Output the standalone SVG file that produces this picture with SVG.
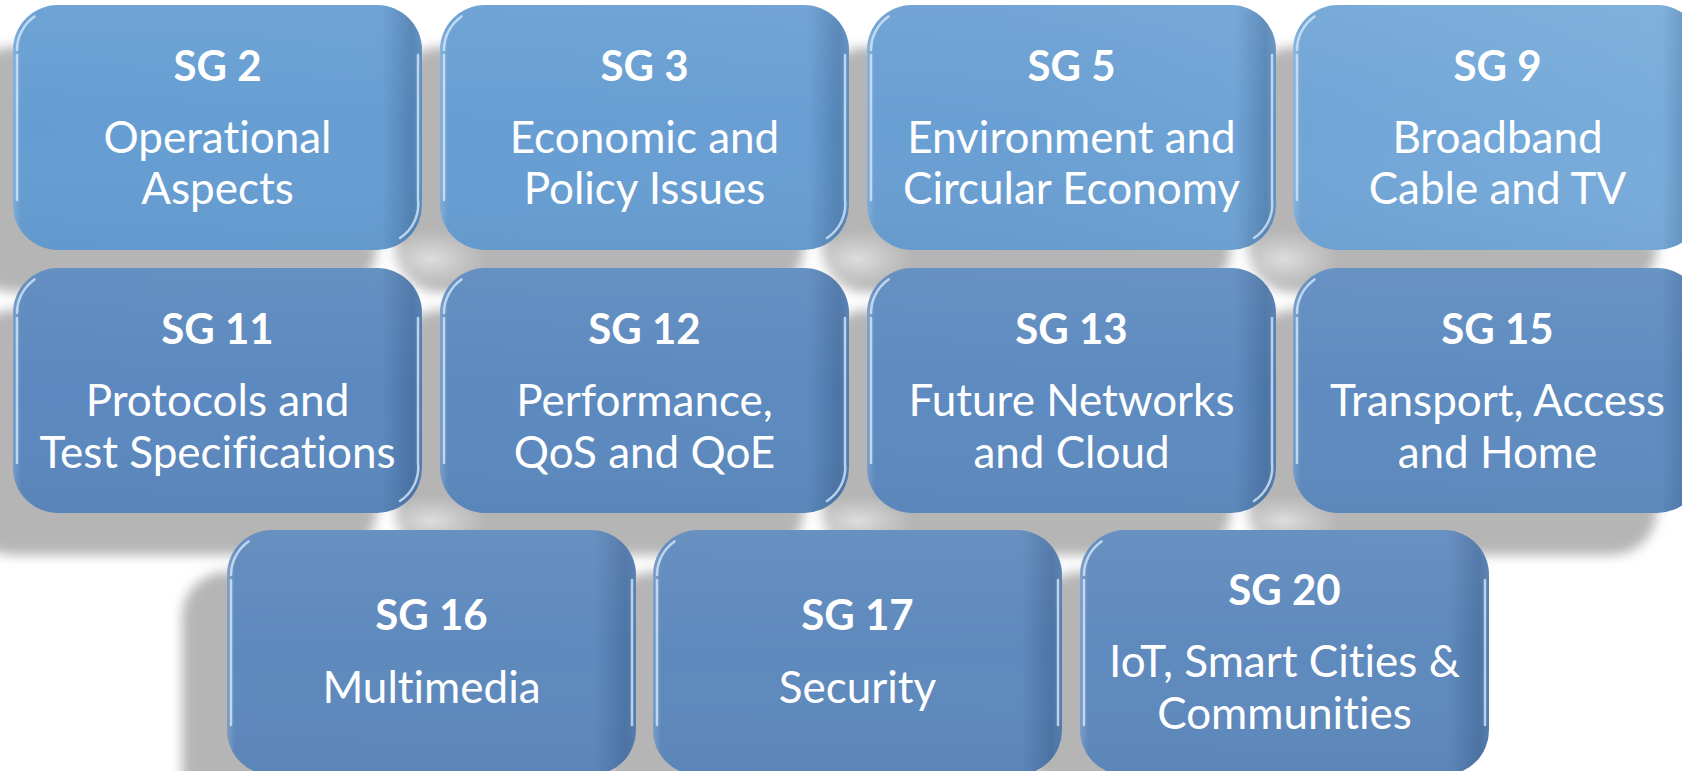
<svg xmlns="http://www.w3.org/2000/svg" width="1682" height="771" viewBox="0 0 1682 771">
  <defs>
    <style>
      .title { font-family: Lato, "Open Sans", "Liberation Sans", sans-serif; font-weight: bold; font-size: 42px; fill: #ffffff; text-anchor: middle; font-variant-ligatures: none; }
      .body { font-family: Lato, "Open Sans", "Liberation Sans", sans-serif; font-size: 44px; fill: #ffffff; text-anchor: middle; font-variant-ligatures: none; font-feature-settings: "liga" 0, "dlig" 0; }
      .shadow { fill: #b5b5b5; filter: url(#soft); }
      .r1 { fill: url(#fillRow1); }
      .r2 { fill: url(#fillRow2); }
      .r3 { fill: url(#fillRow3); }
      .shade { fill: url(#edgeShade); }
      .gloss { fill: url(#topGloss); }
      .hl { fill: none; stroke: #d4e7f8; stroke-width: 2.5; stroke-linecap: round; opacity: 0.8; }
    </style>
    <filter id="soft" x="-10%" y="-10%" width="120%" height="120%">
      <feGaussianBlur stdDeviation="6"/>
    </filter>
    <linearGradient id="fillRow1" gradientUnits="userSpaceOnUse" x1="0" y1="0" x2="1682" y2="250">
      <stop offset="0" stop-color="#659dd2"/>
      <stop offset="0.6" stop-color="#6a9fd3"/>
      <stop offset="1" stop-color="#79addb"/>
    </linearGradient>
    <linearGradient id="fillRow2" gradientUnits="userSpaceOnUse" x1="0" y1="268" x2="1682" y2="513">
      <stop offset="0" stop-color="#5b88be"/>
      <stop offset="1" stop-color="#5f8cc0"/>
    </linearGradient>
    <linearGradient id="fillRow3" gradientUnits="userSpaceOnUse" x1="0" y1="530" x2="1682" y2="771">
      <stop offset="0" stop-color="#5e89bd"/>
      <stop offset="1" stop-color="#5f8abd"/>
    </linearGradient>
    <!-- darker band along the right edge of each tile -->
    <linearGradient id="edgeShade" x1="0" y1="0" x2="1" y2="0">
      <stop offset="0" stop-color="#ffffff" stop-opacity="0.18"/>
      <stop offset="0.02" stop-color="#ffffff" stop-opacity="0"/>
      <stop offset="0.9" stop-color="#1c3c66" stop-opacity="0"/>
      <stop offset="0.975" stop-color="#1c3c66" stop-opacity="0.28"/>
      <stop offset="1" stop-color="#1c3c66" stop-opacity="0.15"/>
    </linearGradient>
    <linearGradient id="topGloss" x1="0" y1="0" x2="0" y2="1">
      <stop offset="0" stop-color="#ffffff" stop-opacity="0.06"/>
      <stop offset="0.5" stop-color="#ffffff" stop-opacity="0"/>
      <stop offset="1" stop-color="#000000" stop-opacity="0.03"/>
    </linearGradient>
    <radialGradient id="spot">
      <stop offset="0" stop-color="#ffffff" stop-opacity="0.55"/>
      <stop offset="0.5" stop-color="#ffffff" stop-opacity="0.25"/>
      <stop offset="1" stop-color="#ffffff" stop-opacity="0"/>
    </radialGradient>
  </defs>

  <rect width="1682" height="771" fill="#ffffff"/>

  <!-- cast shadows, shifted down and to the left -->
  <g id="shadows">
    <rect class="shadow" x="-32" y="47" width="409" height="245" rx="45"/>
    <rect class="shadow" x="395" y="47" width="409" height="245" rx="45"/>
    <rect class="shadow" x="822" y="47" width="409" height="245" rx="45"/>
    <rect class="shadow" x="1248" y="47" width="409" height="245" rx="45"/>
    <rect class="shadow" x="-32" y="310" width="409" height="245" rx="45"/>
    <rect class="shadow" x="395" y="310" width="409" height="245" rx="45"/>
    <rect class="shadow" x="822" y="310" width="409" height="245" rx="45"/>
    <rect class="shadow" x="1248" y="310" width="409" height="245" rx="45"/>
    <rect class="shadow" x="182" y="572" width="409" height="245" rx="45"/>
    <rect class="shadow" x="608" y="572" width="409" height="245" rx="45"/>
    <rect class="shadow" x="1035" y="572" width="409" height="245" rx="45"/>
  </g>

  <!-- lighter pools where the gaps cross -->
  <g id="gap-light">
    <ellipse cx="431" cy="259" rx="55" ry="30" fill="url(#spot)"/>
    <ellipse cx="858" cy="259" rx="55" ry="30" fill="url(#spot)"/>
    <ellipse cx="1284" cy="259" rx="55" ry="30" fill="url(#spot)"/>
    <ellipse cx="431" cy="521" rx="55" ry="26" fill="url(#spot)"/>
    <ellipse cx="858" cy="521" rx="55" ry="26" fill="url(#spot)"/>
    <ellipse cx="1284" cy="521" rx="55" ry="26" fill="url(#spot)"/>
  </g>

  <!-- Row 1 -->
  <g id="sg2">
    <rect class="r1" x="13" y="5" width="409" height="245" rx="45"/>
    <rect class="shade" x="13" y="5" width="409" height="245" rx="45"/>
    <rect class="gloss" x="13" y="5" width="409" height="245" rx="45"/>
    <path class="hl" d="M17 55 V200 M17 50 A41 41 0 0 1 34.5 16.4 M418 55 V200 M418 200 A40 40 0 0 1 400 238"/>
    <text class="title" x="217.5" y="81">SG 2</text>
    <text class="body" x="217.5" y="153">Operational</text>
    <text class="body" x="217.5" y="204">Aspects</text>
  </g>
  <g id="sg3">
    <rect class="r1" x="440" y="5" width="409" height="245" rx="45"/>
    <rect class="shade" x="440" y="5" width="409" height="245" rx="45"/>
    <rect class="gloss" x="440" y="5" width="409" height="245" rx="45"/>
    <path class="hl" d="M444 55 V200 M444 50 A41 41 0 0 1 461.5 16.4 M845 55 V200 M845 200 A40 40 0 0 1 827 238"/>
    <text class="title" x="644.5" y="81">SG 3</text>
    <text class="body" x="644.5" y="153">Economic and</text>
    <text class="body" x="644.5" y="204">Policy Issues</text>
  </g>
  <g id="sg5">
    <rect class="r1" x="867" y="5" width="409" height="245" rx="45"/>
    <rect class="shade" x="867" y="5" width="409" height="245" rx="45"/>
    <rect class="gloss" x="867" y="5" width="409" height="245" rx="45"/>
    <path class="hl" d="M871 55 V200 M871 50 A41 41 0 0 1 888.5 16.4 M1272 55 V200 M1272 200 A40 40 0 0 1 1254 238"/>
    <text class="title" x="1071.5" y="81">SG 5</text>
    <text class="body" x="1071.5" y="153">Environment and</text>
    <text class="body" x="1071.5" y="204">Circular Economy</text>
  </g>
  <g id="sg9">
    <rect class="r1" x="1293" y="5" width="409" height="245" rx="45"/>
    <rect class="shade" x="1293" y="5" width="409" height="245" rx="45"/>
    <rect class="gloss" x="1293" y="5" width="409" height="245" rx="45"/>
    <path class="hl" d="M1297 55 V200 M1297 50 A41 41 0 0 1 1314.5 16.4"/>
    <text class="title" x="1497.5" y="81">SG 9</text>
    <text class="body" x="1497.5" y="153">Broadband</text>
    <text class="body" x="1497.5" y="204">Cable and TV</text>
  </g>

  <!-- Row 2 -->
  <g id="sg11">
    <rect class="r2" x="13" y="268" width="409" height="245" rx="45"/>
    <rect class="shade" x="13" y="268" width="409" height="245" rx="45"/>
    <rect class="gloss" x="13" y="268" width="409" height="245" rx="45"/>
    <path class="hl" d="M17 318 V463 M17 313 A41 41 0 0 1 34.5 279.4 M418 318 V463 M418 463 A40 40 0 0 1 400 501"/>
    <text class="title" x="217.5" y="344">SG 11</text>
    <text class="body" x="217.5" y="416">Protocols and</text>
    <text class="body" x="217.5" y="468">Test Specifications</text>
  </g>
  <g id="sg12">
    <rect class="r2" x="440" y="268" width="409" height="245" rx="45"/>
    <rect class="shade" x="440" y="268" width="409" height="245" rx="45"/>
    <rect class="gloss" x="440" y="268" width="409" height="245" rx="45"/>
    <path class="hl" d="M444 318 V463 M444 313 A41 41 0 0 1 461.5 279.4 M845 318 V463 M845 463 A40 40 0 0 1 827 501"/>
    <text class="title" x="644.5" y="344">SG 12</text>
    <text class="body" x="644.5" y="416">Performance,</text>
    <text class="body" x="644.5" y="468">QoS and QoE</text>
  </g>
  <g id="sg13">
    <rect class="r2" x="867" y="268" width="409" height="245" rx="45"/>
    <rect class="shade" x="867" y="268" width="409" height="245" rx="45"/>
    <rect class="gloss" x="867" y="268" width="409" height="245" rx="45"/>
    <path class="hl" d="M871 318 V463 M871 313 A41 41 0 0 1 888.5 279.4 M1272 318 V463 M1272 463 A40 40 0 0 1 1254 501"/>
    <text class="title" x="1071.5" y="344">SG 13</text>
    <text class="body" x="1071.5" y="416">Future Networks</text>
    <text class="body" x="1071.5" y="468">and Cloud</text>
  </g>
  <g id="sg15">
    <rect class="r2" x="1293" y="268" width="409" height="245" rx="45"/>
    <rect class="shade" x="1293" y="268" width="409" height="245" rx="45"/>
    <rect class="gloss" x="1293" y="268" width="409" height="245" rx="45"/>
    <path class="hl" d="M1297 318 V463 M1297 313 A41 41 0 0 1 1314.5 279.4"/>
    <text class="title" x="1497.5" y="344">SG 15</text>
    <text class="body" x="1497.5" y="416">Transport, Access</text>
    <text class="body" x="1497.5" y="468">and Home</text>
  </g>

  <!-- Row 3 -->
  <g id="sg16">
    <rect class="r3" x="227" y="530" width="409" height="245" rx="45"/>
    <rect class="shade" x="227" y="530" width="409" height="245" rx="45"/>
    <rect class="gloss" x="227" y="530" width="409" height="245" rx="45"/>
    <path class="hl" d="M231 580 V725 M231 575 A41 41 0 0 1 248.5 541.4 M632 580 V725"/>
    <text class="title" x="431.5" y="630">SG 16</text>
    <text class="body" x="431.5" y="703">Multimedia</text>
  </g>
  <g id="sg17">
    <rect class="r3" x="653" y="530" width="409" height="245" rx="45"/>
    <rect class="shade" x="653" y="530" width="409" height="245" rx="45"/>
    <rect class="gloss" x="653" y="530" width="409" height="245" rx="45"/>
    <path class="hl" d="M657 580 V725 M657 575 A41 41 0 0 1 674.5 541.4 M1058 580 V725"/>
    <text class="title" x="857.5" y="630">SG 17</text>
    <text class="body" x="857.5" y="703">Security</text>
  </g>
  <g id="sg20">
    <rect class="r3" x="1080" y="530" width="409" height="245" rx="45"/>
    <rect class="shade" x="1080" y="530" width="409" height="245" rx="45"/>
    <rect class="gloss" x="1080" y="530" width="409" height="245" rx="45"/>
    <path class="hl" d="M1084 580 V725 M1084 575 A41 41 0 0 1 1101.5 541.4 M1485 580 V725"/>
    <text class="title" x="1284.5" y="605">SG 20</text>
    <text class="body" x="1284.5" y="677">IoT, Smart Cities &amp;</text>
    <text class="body" x="1284.5" y="729">Communities</text>
  </g>
</svg>
